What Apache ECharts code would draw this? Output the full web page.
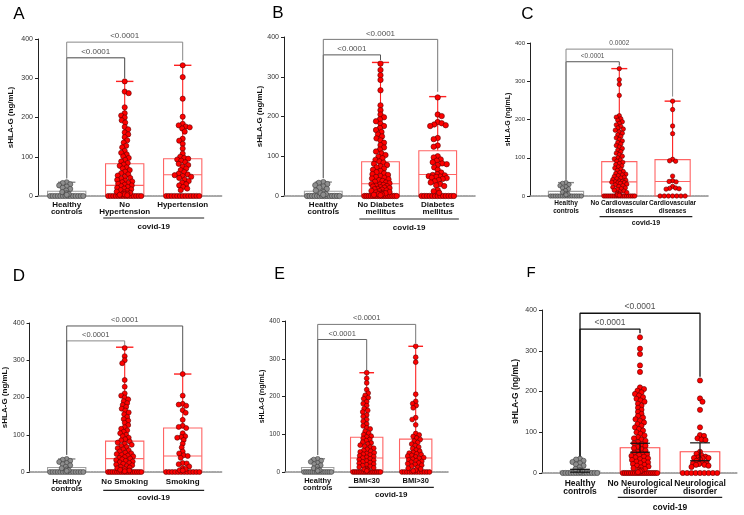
<!DOCTYPE html>
<html><head><meta charset="utf-8">
<script src="https://cdn.jsdelivr.net/npm/echarts@6/dist/echarts.min.js"></script>
<style>html,body{margin:0;padding:0;background:#fff}#c{width:744px;height:515px}</style>
</head><body><div id="c"></div>
<script>
// ---------------- DATA ----------------
const yTicks = [0, 100, 200, 300, 400];
const healthy = [0,0,0,0,0,0,0,0,0,0,0,0,0,0, 3, 5, 7, 10, 14, 18, 21, 24, 27, 30, 33, 35];

// A
const catsA = ['Healthy\ncontrols', 'No\nHypertension', 'Hypertension'];
const noHyp = [292, 266, 262, 226, 211, 205, 200, 193, 187, 176, 170, 162, 157, 150, 142, 136, 128, 124, 115, 110, 106, 101, 97, 92, 88, 84, 80, 77, 73, 70, 66, 62, 58, 55, 52, 49, 46, 44, 41, 39, 37, 35, 33, 31, 29, 27, 25, 23, 21, 19, 17, 15, 13, 11, 9, 8, 6, 5, 4, 3, 2, 0,0,0,0,0,0,0,0,0,0,0,0,0,0];
const hyp = [333, 303, 248, 202, 184, 180, 177, 175, 172, 164, 146, 141, 133, 121, 108, 100, 97, 95, 93, 90, 86, 82, 79, 75, 70, 66, 61, 57, 55, 53, 51, 49, 46, 42, 38, 34, 30, 27, 23, 19, 15, 0,0,0,0,0,0,0,0,0,0,0,0,0];
const statsA = [[0, 0, 3, 12, 35], [0, 0, 27, 82, 292], [0, 0, 54, 95, 333]];
const bracketsA = [[0, 1, 352, 45, 300, '<0.0001'], [0, 2, 392, 45, 345, '<0.0001']];

// B
const catsB = ['Healthy\ncontrols', 'No Diabetes\nmellitus', 'Diabetes\nmellitus'];
const noDM = [333, 317, 304, 292, 266, 228, 216, 205, 198, 193, 188, 182, 176, 171, 166, 161, 155, 150, 145, 140, 134, 128, 122, 117, 112, 107, 103, 99, 95, 91, 87, 84, 81, 78, 75, 72, 69, 66, 63, 60, 57, 55, 53, 50, 48, 46, 44, 42, 40, 38, 36, 34, 32, 30, 29, 28, 26, 25, 24, 22, 21, 20, 18, 17, 16, 14, 13, 12, 10, 9, 8, 7, 6, 5, 4, 3, 2, 0,0,0,0,0,0,0,0,0,0,0,0,0,0,0,0];
const dm = [248, 205, 201, 186, 183, 180, 178, 176, 146, 143, 127, 124, 100, 97, 92, 89, 85, 82, 80, 78, 72, 66, 59, 55, 53, 52, 50, 49, 48, 46, 45, 43, 40, 37, 34, 30, 27, 25, 15, 12, 8, 0,0,0,0,0,0,0,0,0,0,0,0,0];
const statsB = [[0, 0, 3, 12, 35], [0, 0, 31, 86, 336], [0, 0, 54, 114, 250]];
const bracketsB = [[0, 1, 355, 45, 342, '<0.0001'], [0, 2, 394, 45, 262, '<0.0001']];

// C
const catsC = ['Healthy\ncontrols', 'No Cardiovascular\ndiseases', 'Cardiovascular\ndiseases'];
const noCVD = [333, 304, 292, 263, 210, 206, 202, 198, 194, 190, 186, 182, 178, 175, 172, 168, 164, 160, 156, 152, 148, 144, 140, 136, 132, 128, 124, 120, 116, 112, 108, 104, 100, 97, 94, 91, 88, 85, 82, 79, 76, 73, 70, 67, 64, 61, 59, 57, 55, 53, 51, 49, 47, 45, 43, 41, 39, 38, 37, 36, 35, 34, 33, 31, 29, 27, 25, 23, 21, 19, 17, 15, 13, 11, 9, 7, 5, 3, 2, 0,0,0,0,0,0,0,0,0,0,0,0,0,0,0,0];
const cvd = [248, 226, 183, 163, 96, 92, 91, 52, 40, 38, 37, 25, 21, 20, 19, 18, 0,0,0,0,0,0,0];
const statsC = [[0, 0, 3, 12, 35], [0, 0, 37, 90, 333], [0, 0, 38, 95, 248]];
const bracketsC = [[0, 1, 351, 42, 341, '<0.0001'], [0, 2, 384, 42, 260, '0.0002']];

// D
const catsD = ['Healthy\ncontrols', 'No Smoking', 'Smoking'];
const noSmk = [333, 311, 300, 292, 247, 229, 211, 205, 200, 195, 190, 185, 180, 175, 170, 165, 160, 155, 148, 142, 138, 132, 126, 120, 116, 112, 108, 104, 100, 96, 92, 88, 85, 82, 79, 76, 73, 70, 67, 64, 61, 58, 55, 52, 50, 48, 46, 44, 42, 40, 38, 36, 34, 32, 30, 28, 26, 24, 22, 20, 18, 16, 14, 12, 10, 8, 6, 4, 2, 0,0,0,0,0,0,0,0,0,0,0,0,0,0,0,0];
const smk = [263, 205, 183, 181, 178, 166, 159, 140, 124, 121, 118, 104, 96, 94, 92, 86, 76, 66, 55, 50, 45, 43, 38, 24, 23, 21, 15, 10, 8, 5, 4, 0,0,0,0,0,0,0,0,0,0,0,0];
const statsD = [[0, 0, 3, 12, 35], [0, 0, 36, 83, 335], [0, 0, 43, 118, 263]];
const bracketsD = [[0, 1, 352, 46, 341, '<0.0001'], [0, 2, 392, 46, 269, '<0.0001']];

// E
const catsE = ['Healthy\ncontrols', 'BMI<30', 'BMI>30'];
const bmiLow = [263, 248, 236, 218, 209, 203, 197, 194, 186, 181, 176, 168, 163, 159, 151, 147, 139, 134, 127, 122, 117, 114, 108, 103, 99, 95, 93, 89, 86, 83, 79, 77, 74, 71, 68, 66, 63, 60, 57, 55, 53, 51, 49, 47, 45, 43, 41, 39, 37, 35, 33, 31, 29, 27, 25, 23, 21, 19, 17, 15, 13, 11, 9, 7, 5, 3, 0,0,0,0,0,0,0,0,0,0,0,0,0,0,0,0];
const bmiHigh = [333, 304, 291, 206, 187, 181, 176, 170, 144, 139, 125, 102, 98, 94, 90, 86, 82, 78, 74, 70, 66, 62, 58, 55, 52, 50, 48, 46, 44, 42, 40, 38, 36, 34, 32, 30, 28, 26, 24, 22, 20, 18, 15, 12, 10, 8, 5, 3, 0,0,0,0,0,0,0,0,0,0,0,0];
const statsE = [[0, 0, 3, 12, 35], [0, 0, 37, 92, 263], [0, 0, 37, 87, 333]];
const bracketsE = [[0, 1, 351, 45, 270, '<0.0001'], [0, 2, 391, 45, 341, '<0.0001']];

// F  (bar = mean, error bar lower/upper)
const catsF = ['Healthy\ncontrols', 'No Neurological\ndisorder', 'Neurological\ndisorder'];
const noNeuro = [333, 305, 292, 264, 248, 210, 206, 202, 198, 194, 190, 186, 182, 178, 175, 170, 165, 160, 155, 150, 145, 140, 136, 132, 128, 124, 120, 116, 112, 108, 104, 100, 96, 92, 88, 85, 82, 79, 76, 73, 70, 67, 64, 61, 58, 55, 52, 50, 48, 46, 44, 42, 40, 38, 36, 34, 32, 30, 28, 26, 24, 22, 20, 18, 16, 14, 12, 10, 8, 6, 4, 2, 0,0,0,0,0,0,0,0,0,0,0,0,0,0,0,0,0,0];
const neuro = [227, 183, 175, 155, 112, 93, 91, 85, 82, 81, 52, 47, 43, 40, 38, 37, 37, 36, 33, 30, 25, 25, 24, 22, 20, 20, 18, 15, 0,0,0,0,0,0,0,0,0];
const meanF = [5, 62, 52];
const lowF = [2, 51, 30];
const highF = [9, 73, 74];
const bracketsF = [[0, 1, 353, 12, 343, '<0.0001'], [0, 2, 392, 12, 236, '<0.0001']];

const yName = 'sHLA-G (ng/mL)';
const groupName = 'covid-19';

const panels = [
  {letter: 'A', cats: catsA, groups: [healthy, noHyp, hyp], stats: statsA, brackets: bracketsA, kind: 'box'},
  {letter: 'B', cats: catsB, groups: [healthy, noDM, dm], stats: statsB, brackets: bracketsB, kind: 'box'},
  {letter: 'C', cats: catsC, groups: [healthy, noCVD, cvd], stats: statsC, brackets: bracketsC, kind: 'box'},
  {letter: 'D', cats: catsD, groups: [healthy, noSmk, smk], stats: statsD, brackets: bracketsD, kind: 'box'},
  {letter: 'E', cats: catsE, groups: [healthy, bmiLow, bmiHigh], stats: statsE, brackets: bracketsE, kind: 'box'},
  {letter: 'F', cats: catsF, groups: [healthy, noNeuro, neuro], stats: meanF.map((m, i) => [m, lowF[i], highF[i]]), brackets: bracketsF, kind: 'bar'}
];

// ---------------- LAYOUT / STYLE ----------------
const layout = [
  {axisX: 38, right: 222, top: 39, bottom: 196, c0: 66.7, sp: 58, dot: 5.2, tick: 7, cat: 8, catLH: 7.5, catM: 5, name: 8, nameGap: 23, pfs: 8, gfs: 8, lineDy: 22, textDy: 30.7, letter: [19, 14, 17], bc: ['#444', '#888'], bw: 1},
  {axisX: 284, right: 475, top: 37, bottom: 196, c0: 323.3, sp: 57.2, dot: 5.4, tick: 7, cat: 8, catLH: 7.5, catM: 5, name: 8, nameGap: 14, pfs: 8, gfs: 8, lineDy: 23, textDy: 31.7, letter: [278, 13, 17], bc: ['#555', '#777'], bw: 1},
  {axisX: 530, right: 708, top: 43, bottom: 196, c0: 566, sp: 53.3, dot: 4.4, tick: 6, cat: 6.5, catLH: 7.4, catM: 4, name: 7, nameGap: 13, pfs: 6.5, gfs: 7, lineDy: 20.7, textDy: 26.7, letter: [527.5, 14, 17], bc: ['#555', '#888'], bw: 1},
  {axisX: 27, right: 222, top: 323, bottom: 472, c0: 66.7, sp: 58, dot: 5, tick: 7, cat: 8, catLH: 7.2, catM: 6, name: 8, nameGap: 12, pfs: 7.5, gfs: 8, lineDy: 18.3, textDy: 25.7, letter: [19, 276.5, 17], bc: ['#888', '#555'], bw: 1},
  {axisX: 285, right: 448, top: 321, bottom: 472, c0: 317.7, sp: 49, dot: 4.8, tick: 6.5, cat: 7.5, catLH: 7.6, catM: 5, name: 7, nameGap: 13, pfs: 7.5, gfs: 8, lineDy: 15.3, textDy: 22.3, letter: [279.5, 274.5, 16], bc: ['#666', '#777'], bw: 1},
  {axisX: 542, right: 738, top: 310, bottom: 473, c0: 580, sp: 60, dot: 5.2, tick: 7, cat: 8.5, catLH: 8.4, catM: 6, name: 8.5, nameGap: 22, pfs: 8.5, gfs: 8.5, lineDy: 24.3, textDy: 34.7, letter: [531, 273, 15], bc: ['#111', '#111'], bw: 1.3}
];
const FONT = 'Liberation Sans, Arial, Helvetica, sans-serif';
const GREY = {fill: '#8e8e8e', border: '#3a3a3a', box: '#a0a0a0', whisk: '#888'};
const RED = {fill: '#ff0000', border: '#5a0000', box: '#ff6464', whisk: '#ff2020'};

// beeswarm layout (pixel offsets) computed from values; partial overlap allowed like GraphPad
function swarm(vals, ppv, d, maxHalf) {
  const cnt = new Map();
  vals.forEach(v => cnt.set(v, (cnt.get(v) || 0) + 1));
  const placed = [];
  const out = [];
  cnt.forEach((k, v) => {
    if (k >= 4) {
      const spacing = Math.min(d, 2 * maxHalf / (k - 1));
      for (let j = 0; j < k; j++) {
        const x = (j - (k - 1) / 2) * spacing;
        placed.push([x, v * ppv]);
        out.push([x, v]);
      }
    }
  });
  const dc = d * 0.8;
  const lim = Math.min(maxHalf, d * 1.8);
  const rest = vals.filter(v => cnt.get(v) < 4).sort((a, b) => b - a);
  rest.forEach((v, idx) => {
    const y = v * ppv;
    const cands = [0];
    for (let s = 0.5; s <= lim + 0.01; s += 0.5) {
      if (idx % 2) { cands.push(-s, s); } else { cands.push(s, -s); }
    }
    let best = 0, bestScore = -1;
    for (const x of cands) {
      let md = Infinity;
      for (const p of placed) {
        const dy = p[1] - y;
        if (Math.abs(dy) >= dc) continue;
        const dist = Math.hypot(p[0] - x, dy);
        if (dist < md) md = dist;
      }
      if (md >= dc) { best = x; bestScore = Infinity; break; }
      if (md > bestScore + 0.3) { bestScore = md; best = x; }
    }
    placed.push([best, y]);
    out.push([best, v]);
  });
  return out;
}

const chart = echarts.init(document.getElementById('c'), null, {renderer: 'canvas'});
const option = {animation: false, textStyle: {fontFamily: FONT}, grid: [], xAxis: [], yAxis: [], series: []};

panels.forEach((P, p) => {
  const L = layout[p];
  const h = L.bottom - L.top;
  option.grid.push({left: L.axisX, top: L.top, width: L.right - L.axisX, height: h});
  option.grid.push({left: L.c0 - L.sp / 2, top: L.top, width: 3 * L.sp, height: h});
  option.xAxis.push({type: 'value', gridIndex: 2 * p, min: 0, max: 1,
    axisLine: {show: true, onZero: false, lineStyle: {color: '#8a8a8a', width: 1.6, type: [1.6, 1.2]}},
    axisTick: {show: false}, axisLabel: {show: false}, splitLine: {show: false}});
  option.xAxis.push({type: 'category', gridIndex: 2 * p + 1, data: P.cats,
    axisLine: {show: false}, axisTick: {show: false}, splitLine: {show: false},
    axisLabel: {interval: 0, fontSize: L.cat, fontWeight: 'bold', color: '#111', lineHeight: L.catLH, margin: L.catM, fontFamily: FONT}});
  option.xAxis.push({type: 'value', gridIndex: 2 * p + 1, min: -0.5, max: 2.5, show: false});
  option.yAxis.push({type: 'value', gridIndex: 2 * p, min: yTicks[0], max: yTicks[yTicks.length - 1], interval: yTicks[1] - yTicks[0],
    name: yName, nameLocation: 'middle', nameGap: L.nameGap,
    nameTextStyle: {fontSize: L.name, fontWeight: 'bold', color: '#111', fontFamily: FONT},
    axisLine: {show: true, lineStyle: {color: '#222', width: 1}},
    axisTick: {show: true, length: 3, lineStyle: {color: '#222'}},
    axisLabel: {fontSize: L.tick, color: '#333', margin: 5, fontFamily: FONT},
    splitLine: {show: false}});
  option.yAxis.push({type: 'value', gridIndex: 2 * p + 1, min: yTicks[0], max: yTicks[yTicks.length - 1], show: false});

  const xi = 3 * p + 2, yi = 2 * p + 1;
  const ppv = h / 400;
  const cols = [GREY, RED, RED];

  if (P.kind === 'box') {
    option.series.push({type: 'custom', xAxisIndex: xi, yAxisIndex: yi, z: 2, silent: true,
      data: P.stats.map((s, i) => [i].concat(s)),
      encode: {x: 0, y: [1, 2, 3, 4, 5]},
      renderItem: function (params, api) {
        const c = api.value(0);
        const x = api.coord([c, 0])[0];
        const yv = k => api.coord([c, api.value(k)])[1];
        const yQ1 = yv(2), yMed = yv(3), yQ3 = yv(4), yMax = yv(5);
        const band = api.size([1, 0])[0];
        const bw = band * 0.66, cw = band * 0.3;
        const col = cols[params.dataIndex];
        return {type: 'group', children: [
          {type: 'line', shape: {x1: x, y1: yQ3, x2: x, y2: yMax}, style: {stroke: col.whisk, lineWidth: 1.1}},
          {type: 'line', shape: {x1: x - cw / 2, y1: yMax, x2: x + cw / 2, y2: yMax}, style: {stroke: col.whisk, lineWidth: 1.4}},
          {type: 'rect', shape: {x: x - bw / 2, y: yQ3, width: bw, height: yQ1 - yQ3}, style: {fill: 'none', stroke: col.box, lineWidth: 1.1}},
          {type: 'line', shape: {x1: x - bw / 2, y1: yMed, x2: x + bw / 2, y2: yMed}, style: {stroke: col.box, lineWidth: 1.1}}
        ]};
      }});
  } else {
    option.series.push({type: 'custom', xAxisIndex: xi, yAxisIndex: yi, z: 2, silent: true,
      data: P.stats.map((s, i) => [i].concat(s)),
      encode: {x: 0, y: [1, 2, 3]},
      renderItem: function (params, api) {
        const c = api.value(0);
        const x = api.coord([c, 0])[0];
        const y0 = api.coord([c, 0])[1];
        const ym = api.coord([c, api.value(1)])[1];
        const bw = api.size([1, 0])[0] * 0.66;
        return {type: 'rect', shape: {x: x - bw / 2, y: ym, width: bw, height: y0 - ym}, style: {fill: 'rgba(255,255,255,0)', stroke: params.dataIndex ? '#ff4a4a' : '#999', lineWidth: 1.1}};
      }});
    option.series.push({type: 'custom', xAxisIndex: xi, yAxisIndex: yi, z: 5, silent: true,
      data: P.stats.map((s, i) => [i].concat(s)),
      encode: {x: 0, y: [1, 2, 3]},
      renderItem: function (params, api) {
        const c = api.value(0);
        const x = api.coord([c, 0])[0];
        const yl = api.coord([c, api.value(2)])[1];
        const yh = api.coord([c, api.value(3)])[1];
        const cw = api.size([1, 0])[0] * 0.33;
        const st = {stroke: '#111', lineWidth: 1.2};
        return {type: 'group', children: [
          {type: 'line', shape: {x1: x, y1: yl, x2: x, y2: yh}, style: st},
          {type: 'line', shape: {x1: x - cw / 2, y1: yh, x2: x + cw / 2, y2: yh}, style: st},
          {type: 'line', shape: {x1: x - cw / 2, y1: yl, x2: x + cw / 2, y2: yl}, style: st}
        ]};
      }});
  }

  P.groups.forEach((vals, gi) => {
    const sw = swarm(vals, ppv, L.dot * 0.95, L.sp * 0.33 - L.dot / 2);
    option.series.push({type: 'scatter', xAxisIndex: xi, yAxisIndex: yi, z: 3, silent: true,
      symbolSize: L.dot,
      itemStyle: {color: cols[gi].fill, borderColor: cols[gi].border, borderWidth: 0.6, opacity: 1},
      data: sw.map(s => [gi + s[0] / L.sp, s[1]])});
  });

  P.brackets.forEach((b, bi) => {
    option.series.push({type: 'line', xAxisIndex: xi, yAxisIndex: yi, z: 1, silent: true, symbol: 'none',
      lineStyle: {color: L.bc[bi], width: L.bw},
      data: [[b[0], b[3]], [b[0], b[2]], [b[1], b[2]], [b[1], b[4]]]});
    option.series.push({type: 'scatter', xAxisIndex: xi, yAxisIndex: yi, z: 1, silent: true, symbolSize: 1,
      itemStyle: {color: 'rgba(0,0,0,0)'},
      label: {show: true, position: 'top', distance: 1.5, formatter: '{b}', fontSize: L.pfs, color: '#222', fontFamily: FONT},
      data: [{name: b[5], value: [(b[0] + b[1]) / 2, b[2]]}]});
  });
});

chart.setOption(option);

// annotations (panel letters, covid-19 group line) positioned via the axes
const g = [];
panels.forEach((P, p) => {
  const L = layout[p];
  const xi = 3 * p + 2;
  const x1 = chart.convertToPixel({xAxisIndex: xi}, 1 - 0.37);
  const x2 = chart.convertToPixel({xAxisIndex: xi}, 2 + 0.37);
  const xm = chart.convertToPixel({xAxisIndex: xi}, 1.5);
  g.push({type: 'line', silent: true, shape: {x1: x1, y1: L.bottom + L.lineDy, x2: x2, y2: L.bottom + L.lineDy}, style: {stroke: '#222', lineWidth: 1.2}});
  g.push({type: 'text', silent: true, x: xm, y: L.bottom + L.textDy, style: {text: groupName, fontSize: L.gfs, fontWeight: 'bold', fontFamily: FONT, fill: '#111', align: 'center', verticalAlign: 'middle'}});
  g.push({type: 'text', silent: true, x: L.letter[0], y: L.letter[1], style: {text: P.letter, fontSize: L.letter[2], fontFamily: FONT, fill: '#000', align: 'center', verticalAlign: 'middle'}});
});
chart.setOption({graphic: {elements: g}});
</script>
</body></html>
